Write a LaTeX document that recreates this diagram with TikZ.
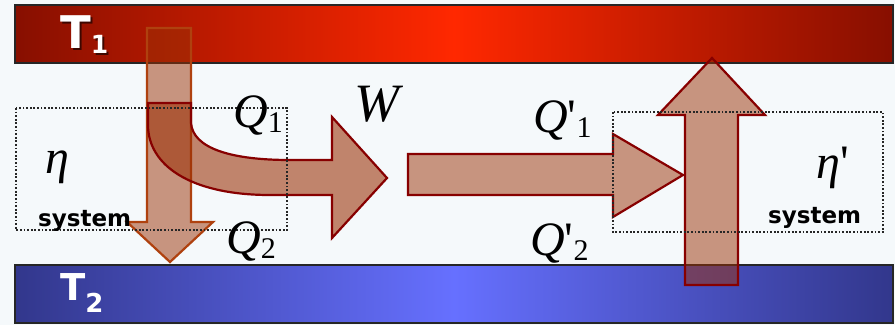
\documentclass[tikz,border=0pt]{standalone}
\usepackage{fontspec}
\setmainfont{Liberation Serif}
\newfontfamily\labelsans{DejaVu Sans}
\usepackage{xcolor}

\definecolor{paper}{RGB}{245,249,251}
\definecolor{hotdark}{RGB}{135,15,0}
\definecolor{hotlight}{RGB}{255,40,0}
\definecolor{colddark}{RGB}{50,55,140}
\definecolor{coldlight}{RGB}{102,112,255}
\definecolor{heatfill}{RGB}{155,48,5}
\definecolor{heatline}{RGB}{135,0,0}
\definecolor{dropline}{RGB}{175,65,15}

\newcommand{\symsize}{\fontsize{48}{52}\selectfont}
\newcommand{\subsize}{\fontsize{30}{33}\selectfont}

\begin{document}
\begin{tikzpicture}[x=1pt, y=-1pt,
    heatflow/.style={fill=heatfill, fill opacity=0.5, draw=heatline, line width=2.2pt},
    bath/.style={draw=black!85, line width=2pt},
    sysbox/.style={draw=black!85, line width=1.8pt, dash pattern=on 1.8pt off 1.8pt},
    symbol/.style={anchor=base west, inner sep=0pt, font=\symsize\itshape},
    syslabel/.style={anchor=base west, inner sep=0pt, font=\labelsans\bfseries\fontsize{23}{25}\selectfont},
    bathlabel/.style={anchor=base west, inner sep=0pt, font=\labelsans\bfseries}]
    \useasboundingbox (0,0) rectangle (895,325);
    \fill[paper] (0,0) rectangle (895,325);

    % Hot and cold reservoirs
    \shade[left color=hotdark, right color=hotdark, middle color=hotlight] (15,5) rectangle (893,63);
    \draw[bath] (15,5) rectangle (893,63);
    \shade[left color=colddark, right color=colddark, middle color=coldlight] (15,265) rectangle (893,323);
    \draw[bath] (15,265) rectangle (893,323);

    % Heat flows of the first engine
    \draw[heatflow, draw=dropline] (147,28) -- (191,28) -- (191,222) -- (213,222) -- (170,262)
        -- (127,222) -- (147,222) -- cycle;
    \draw[heatflow, fill opacity=0.58] (148,103) -- (191,103) -- (191,123)
        .. controls (193,148) and (230,160) .. (290,160) -- (332,160) -- (332,117) -- (387,178)
        -- (332,238) -- (332,195) -- (270,195) .. controls (190,195) and (148,165) .. (148,125) -- cycle;

    % Work into the second engine and its heat flows
    \draw[heatflow] (408,154) -- (613,154) -- (613,134) -- (683,175) -- (613,217) -- (613,195)
        -- (408,195) -- cycle;
    \draw[heatflow] (685,285) -- (685,115) -- (658,115) -- (712,58) -- (765,115) -- (738,115)
        -- (738,285) -- cycle;

    % Systems
    \draw[sysbox] (16,108) rectangle (287,230);
    \draw[sysbox] (613,112) rectangle (883,232);

    % Labels
    \node[bathlabel, text=black, text opacity=0.6] (t1shadow) at (62,50)
        {\fontsize{45}{48}\selectfont T\raisebox{-5pt}{\fontsize{25}{28}\selectfont 1}};
    \node[bathlabel, text=white] (t1) at (60,48)
        {\fontsize{45}{48}\selectfont T\raisebox{-5pt}{\fontsize{25}{28}\selectfont 1}};
    \node[bathlabel, text=white] (t2) at (60,300)
        {\fontsize{37}{40}\selectfont T\raisebox{-12pt}{\fontsize{26}{29}\selectfont 2}};

    \node[symbol] (q1) at (233,127) {Q\raisebox{-5pt}{\upshape\subsize 1}};
    \node[symbol, font=\fontsize{54}{58}\selectfont\itshape] (w) at (354,121) {W};
    \node[symbol] (q1p) at (533,132) {Q{\upshape\textquotesingle}\raisebox{-5pt}{\upshape\subsize 1}};
    \node[symbol] (q2) at (226,253) {Q\raisebox{-5pt}{\upshape\subsize 2}};
    \node[symbol] (q2p) at (530,255) {Q{\upshape\textquotesingle}\raisebox{-5pt}{\upshape\subsize 2}};
    \node[symbol] (eta) at (45,173) {η};
    \node[symbol] (etap) at (816,178) {η{\upshape\textquotesingle}};
    \node[syslabel] (sys) at (38,226) {system};
    \node[syslabel] (sysp) at (768,223) {system};
\end{tikzpicture}
\end{document}
